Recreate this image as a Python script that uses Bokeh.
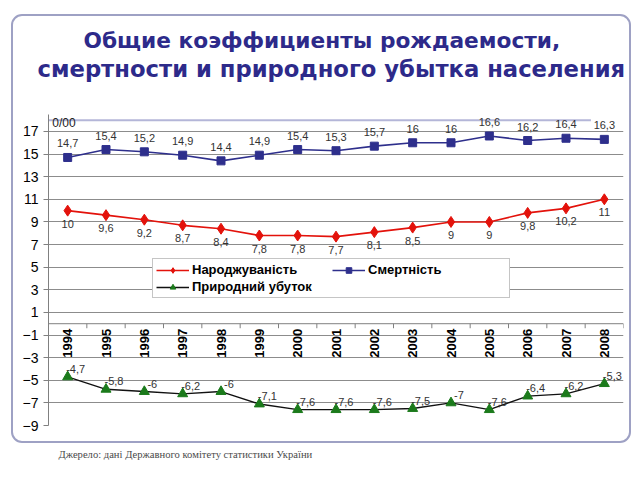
from bokeh.plotting import figure
from bokeh.models import (Range1d, FixedTicker, Legend, LegendItem, Title,
                          Span, ColumnDataSource, InlineStyleSheet)
from bokeh.embed import file_html
from bokeh.resources import INLINE
from bokeh.core.properties import value
import math

years = ["1994", "1995", "1996", "1997", "1998", "1999", "2000", "2001",
         "2002", "2003", "2004", "2005", "2006", "2007", "2008"]
births = [10, 9.6, 9.2, 8.7, 8.4, 7.8, 7.8, 7.7, 8.1, 8.5, 9, 9, 9.8, 10.2, 11]
deaths = [14.7, 15.4, 15.2, 14.9, 14.4, 14.9, 15.4, 15.3, 15.7, 16, 16, 16.6, 16.2, 16.4, 16.3]
loss = [-4.7, -5.8, -6, -6.2, -6, -7.1, -7.6, -7.6, -7.6, -7.5, -7, -7.6, -6.4, -6.2, -5.3]
y_ticks = [-9, -7, -5, -3, -1, 1, 3, 5, 7, 9, 11, 13, 15, 17]

title1 = "Общие коэффициенты рождаемости,"
title2 = "смертности и природного убытка населения"
source_text = "Джерело: дані Державного комітету статистики України"
legend_names = ["Народжуваність", "Смертність", "Природний убуток"]
unit_text = "0/00"


def fmt(v):
    return f"{v:g}".replace(".", ",")


xs = list(range(len(years)))
src = ColumnDataSource(dict(
    x=xs, year=years,
    births=births, deaths=deaths, loss=loss,
    bl=[fmt(v) for v in births], dl=[fmt(v) for v in deaths], ll=[fmt(v) for v in loss],
))

W, H = 640, 480
p = figure(width=W, height=H, output_backend="svg", toolbar_location=None,
           x_range=Range1d(-0.5, len(years) - 0.5), y_range=Range1d(-9, 18.5),
           x_axis_type=None, min_border_left=48, min_border_right=17,
           min_border_top=114, min_border_bottom=55)
p.outline_line_color = None
p.background_fill_color = "white"
p.border_fill_color = "white"

# titles: p.title is outermost; added ones stack outward from the plot area
title_color = "#2d2a8a"
p.title.text = title1
p.title.align = "left"
p.title.offset = 35
p.title.text_font = "DejaVu Sans"
p.title.text_font_style = "bold"
p.title.text_font_size = "21.7px"
p.title.text_color = title_color
p.title.standoff = 1
# spacer between the title block and the plot area
p.add_layout(Title(text=" ", text_font_size="1px", standoff=29), "above")
p.add_layout(Title(text=title2, align="left", offset=-11, text_font="DejaVu Sans",
                   text_font_style="bold", text_font_size="22.7px",
                   text_color=title_color, standoff=1), "above")
p.add_layout(Title(text=source_text, align="left", offset=10, text_font="Liberation Serif",
                   text_font_style="normal", text_font_size="10.6px",
                   text_color="#4a4a4a", standoff=42), "below")

# y axis
ax = p.yaxis[0]
ax.ticker = FixedTicker(ticks=y_ticks)
ax.major_label_text_font = "Liberation Sans"
ax.major_label_text_font_size = "14px"
ax.major_label_text_color = "black"
ax.major_tick_out = 5
ax.major_tick_in = 0
ax.minor_tick_line_color = None
ax.axis_line_color = "#808080"
ax.major_tick_line_color = "#808080"
ax.major_label_standoff = 5
p.ygrid.ticker = FixedTicker(ticks=y_ticks)
p.ygrid.grid_line_color = "#8c8c8c"
p.ygrid.grid_line_width = 1
p.xgrid.visible = False

# top light border of plot area and unit label
p.segment(x0=[-0.5], y0=[18], x1=[13.65], y1=[18], line_color="#b4b6d8", line_width=2)
p.text(x=[-0.4], y=[18], text=[unit_text], text_align="left", text_baseline="middle",
       y_offset=3, text_font=value("Liberation Sans"), text_font_size="12px",
       text_color="#222222")

# x axis at zero
p.add_layout(Span(location=0, dimension="width", line_color="#808080", line_width=1))
bounds = [i - 0.5 for i in range(len(years) + 1)]
p.segment(x0=bounds, y0=[0] * len(bounds), x1=bounds, y1=[-0.4] * len(bounds),
          line_color="#808080", line_width=1)
p.text(x="x", y=-0.45, text="year", source=src, angle=math.pi / 2,
       text_align="right", text_baseline="middle", text_font=value("Liberation Sans"),
       text_font_style="bold", text_font_size="13px", text_color="black")

# series
r_b_line = p.line("x", "births", source=src, line_color="#e3120b", line_width=1.6)
r_b_pts = p.scatter("x", "births", source=src, marker="diamond", size=11,
                    fill_color="#e3120b", line_color="#e3120b")
r_d_line = p.line("x", "deaths", source=src, line_color="#2e2f8c", line_width=1.6)
r_d_pts = p.scatter("x", "deaths", source=src, marker="square", size=8,
                    fill_color="#2e2f8c", line_color="#2e2f8c")
r_l_line = p.line("x", "loss", source=src, line_color="#111111", line_width=1.4)
r_l_pts = p.scatter("x", "loss", source=src, marker="triangle", size=10,
                    fill_color="#1b7a1b", line_color="#1b7a1b")

lab_kw = dict(text_font=value("Liberation Sans"), text_font_size="11px", text_color="#333333")
p.text(x="x", y="births", text="bl", source=src, text_align="center",
       text_baseline="middle", y_offset=13, **lab_kw)
p.text(x="x", y="deaths", text="dl", source=src, text_align="center",
       text_baseline="middle", y_offset=-14, **lab_kw)
p.text(x="x", y="loss", text="ll", source=src, text_align="center",
       text_baseline="middle", x_offset=8, y_offset=-8, **lab_kw)

legend = Legend(items=[
    LegendItem(label=legend_names[0], renderers=[r_b_line, r_b_pts]),
    LegendItem(label=legend_names[2], renderers=[r_l_line, r_l_pts]),
    LegendItem(label=legend_names[1], renderers=[r_d_line, r_d_pts]),
], location=(104, 127), ncols=2)
legend.label_text_font = "Liberation Sans"
legend.label_text_font_style = "bold"
legend.label_text_font_size = "13px"
legend.label_text_color = "black"
legend.glyph_width = 33
legend.glyph_height = 14
legend.label_standoff = 3
legend.label_width = 138
legend.label_height = 14
legend.spacing = 2
legend.padding = 3
legend.margin = 0
legend.border_line_color = "#8c8c8c"
legend.background_fill_color = "white"
legend.background_fill_alpha = 1
p.add_layout(legend, "center")

# outer rounded frame (decorative)
p.stylesheets = [InlineStyleSheet(css=(
    ":host { position: relative; }"
    ":host::after { content: ''; position: absolute; box-sizing: border-box; "
    "left: 11px; top: 14px; width: 620px; height: 429px; "
    "border: 2px solid #9ea1c4; border-radius: 11px; "
    "pointer-events: none; z-index: 10; }"
))]

open("out.html", "w").write(file_html(p, INLINE))
